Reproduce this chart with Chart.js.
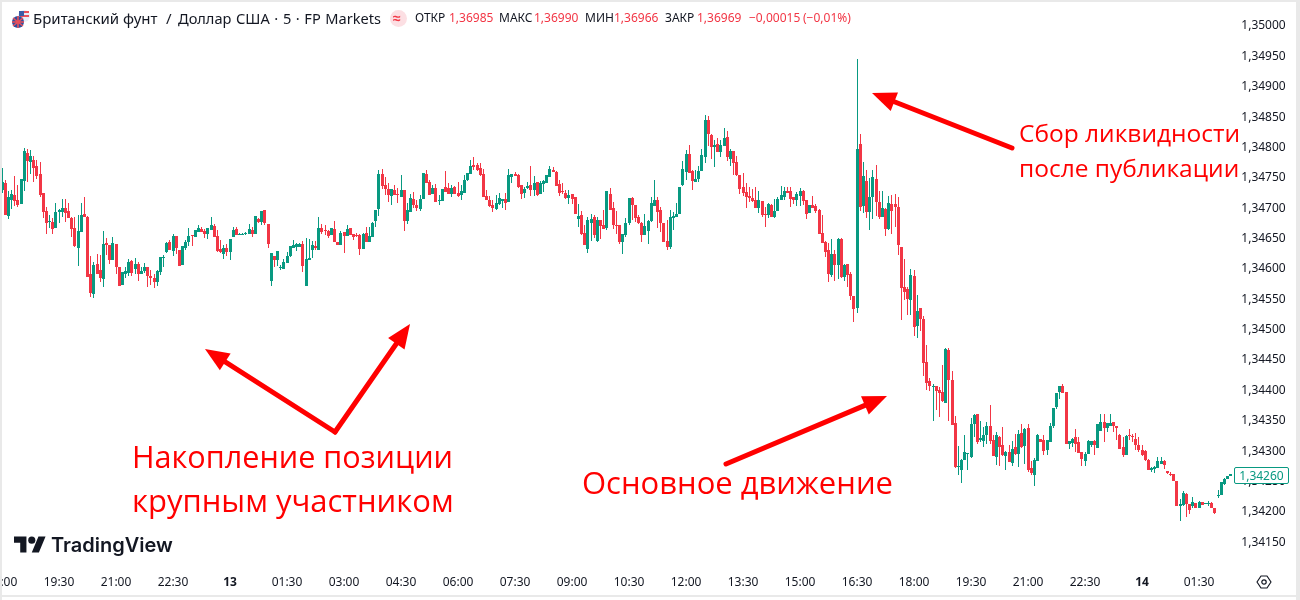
<!DOCTYPE html>
<html><head><meta charset="utf-8">
<script src="https://cdn.jsdelivr.net/npm/chart.js@4"></script>
<style>
html,body{margin:0;padding:0;background:#fff;width:1300px;height:600px;overflow:hidden;font-family:"Noto Sans",sans-serif}
#c{position:absolute;left:0;top:0}
.t{position:absolute;white-space:nowrap;line-height:1}
.h{font-size:12px;color:#131722;top:12px}
.v{color:#F23645}
.big{color:#f00;font-family:"Open Sans","Noto Sans",sans-serif}
.frame{position:absolute;background:#e9e9e9}
</style></head><body>
<canvas id="c" width="1300" height="600"></canvas>
<div class="frame" style="left:0;top:0;width:1300px;height:2px"></div>
<div class="frame" style="left:0;top:0;width:2px;height:600px"></div>
<div class="frame" style="left:0;top:595px;width:1300px;height:2px"></div>
<div class="frame" style="left:1296px;top:0;width:4px;height:600px"></div>
<svg style="position:absolute;left:11px;top:9px" width="20" height="20" viewBox="0 0 20 20">
<circle cx="13" cy="7" r="6" fill="#e8eef8"/><rect x="9" y="2" width="9" height="2" fill="#e8505b"/><rect x="9" y="6" width="9" height="2" fill="#e8505b"/><rect x="8" y="2" width="5" height="5" fill="#3b5ba5"/>
<circle cx="7" cy="13" r="6" fill="#2f4f9e"/><path d="M2 9l10 8M12 9L2 17M7 7v12M1 13h12" stroke="#e8505b" stroke-width="1.6"/>
</svg>
<div class="t" style="left:33px;top:11px;font-size:15px;color:#131722">Британский фунт</div>
<div class="t" style="left:166px;top:11px;font-size:15px;color:#131722">/</div>
<div class="t" style="left:178px;top:11px;font-size:14.6px;word-spacing:0.8px;color:#131722">Доллар США · 5 · FP Markets</div>
<div style="position:absolute;left:390px;top:10px;width:17px;height:17px;border-radius:50%;background:#fcdfe3"></div>
<div class="t" style="left:393px;top:11px;font-size:14px;color:#F23645;font-weight:700">≈</div>
<div class="t h" style="left:415px">ОТКР</div><div class="t h v" style="left:449px">1,36985</div>
<div class="t h" style="left:499px">МАКС</div><div class="t h v" style="left:534px">1,36990</div>
<div class="t h" style="left:585px">МИН</div><div class="t h v" style="left:614px">1,36966</div>
<div class="t h" style="left:665px">ЗАКР</div><div class="t h v" style="left:697px">1,36969</div>
<div class="t h v" style="left:749px">−0,00015</div><div class="t h v" style="left:803px">(−0,01%)</div>
<div class="t big" style="left:1019px;top:121px;font-size:24.5px">Сбор ликвидности</div>
<div class="t big" style="left:1019px;top:156px;font-size:24.5px">после публикации</div>
<div class="t big" style="left:132px;top:441px;font-size:30.6px">Накопление позиции</div>
<div class="t big" style="left:132px;top:485px;font-size:31px">крупным участником</div>
<div class="t big" style="left:582px;top:467px;font-size:31px">Основное движение</div>
<svg style="position:absolute;left:14px;top:533px" width="32" height="25" viewBox="0 0 36 28"><path d="M14 22H7V11H0V4h14v18zM28 22h-8l7.5-18h8L28 22z" fill="#131722"/><circle cx="20" cy="8" r="4" fill="#131722"/></svg>
<div class="t" style="left:51px;top:535px;font-size:20px;font-weight:600;font-family:Inter,sans-serif;color:#131722">TradingView</div>
<svg style="position:absolute;left:1256px;top:574px" width="16" height="16" viewBox="0 0 16 16"><path d="M5 2h6l4 6-4 6H5L1 8z" fill="none" stroke="#131722" stroke-width="1.2" stroke-linejoin="round"/><circle cx="8" cy="8" r="2.2" fill="none" stroke="#131722" stroke-width="1.2"/></svg>
<div class="t" style="left:1234px;top:467px;width:53px;height:15px;line-height:15px;border:1.5px solid #089981;border-radius:2px;background:#fff;color:#089981;font-size:12px;text-align:center">1,34260</div>
<script>
const directions = [
 'GRGGRRGGRG RRRRRGRGGG RRRRGGRRRG RRGRRGRRGG GRGRGGRRRG GGGRGRRGGG RGGRRG',
 'GRRRGRGGRG GGGRGRGRRG RGGGGGGGGR GGGRGRRRGR RGRGRRRRGR GGGGRRRGRR GRGGR',
 'RGGRRGRGGR RGRRGGGGRR RRRRRGGGRG GRRRGGRGRG GGGRRRRRGR RGRRGGRGRR GRRRR',
 'GGGRRRRGGG GRRRRGGGGG GRRGGGGRRG RGGRGRRRRR RRRGRRGRGG GGRRRGGRRG RRRRR',
 'RGRGRGRRRG RGRGGRRGRG RRRRRRGRGR RRRGRRRGR',
 'RRGGGGGGRG GGRRGRRGRG RGRGRRGGRR GGGGGRRGGR RRGG',
 'GRGGRGGRRR RGRRRRRRRG GGGRRRRRGG RRGRGRGGRR GGGGG'
].join('').replace(/ /g,'');
const highs = [
34764,34745,34727,34729,34751,34736,34746,34798,34796,34794,34784,34778,34774,34723,34700,34687,34682,34707,34697,34713,34713,34707,34684,34684,34687,34707,34717,34685,34620,34610,34623,34621,34661,34649,34638,34651,34639,34601,34593,34601,34615,34613,34616,34610,34601,34608,34601,34596,34590,34596,34618,34621,34643,34646,34656,34652,34629,34636,34646,34666,34654,34662,34671,34667,34664,34666,
34684,34672,34662,34646,34638,34639,34648,34667,34667,34657,34657,34659,34672,34667,34685,34682,34694,34695,34672,34625,34620,34628,34605,34615,34626,34636,34646,34641,34641,34644,34649,34648,34644,34644,34684,34672,34671,34662,34666,34677,34643,34661,34659,34671,34666,34656,34657,34656,34657,34667,34667,34676,34695,34761,34763,34750,34740,34730,34736,34731,34753,34728,34707,34722,34725,
34712,34720,34756,34761,34745,34737,34738,34720,34730,34760,34740,34737,34735,34741,34737,34753,34756,34778,34783,34773,34773,34763,34728,34718,34712,34720,34723,34713,34723,34763,34755,34758,34755,34737,34733,34741,34768,34751,34741,34743,34745,34753,34768,34766,34760,34745,34740,34728,34728,34722,34717,34705,34694,34671,34684,34689,34687,34684,34679,34695,34727,34732,34709,34694,34671,
34656,34682,34715,34717,34704,34687,34676,34689,34679,34717,34745,34717,34700,34674,34679,34695,34692,34707,34733,34776,34794,34802,34761,34761,34768,34796,34852,34850,34821,34811,34814,34811,34830,34825,34796,34792,34784,34753,34756,34740,34733,34730,34733,34727,34710,34700,34707,34705,34713,34717,34735,34733,34733,34733,34717,34725,34732,34728,34712,34704,34718,34705,34697,34687,34645,
34641,34648,34630,34649,34649,34607,34607,34593,34554,34944,34821,34775,34761,34748,34761,34770,34727,34727,34699,34719,34720,34722,34717,34635,34615,34569,34598,34597,34556,34534,34521,34473,34419,34409,34406,34404,34440,34468,34468,
34430,34356,34307,34285,34325,34295,34353,34360,34360,34348,34338,34346,34374,34325,34330,34323,34338,34299,34308,34315,34327,34333,34343,34337,34343,34282,34287,34327,34318,34325,34317,34345,34369,34394,34406,34409,34396,34315,34320,34335,34322,34297,34297,34317,
34315,34317,34343,34360,34360,34345,34360,34347,34340,34327,34322,34325,34335,34327,34329,34322,34309,34301,34286,34273,34274,34289,34289,34284,34266,34264,34260,34250,34220,34232,34230,34212,34223,34213,34217,34215,34213,34217,34215,34205,34235,34248,34255,34258,34260];
const bodyTops = [
34742,34740,34717,34722,34720,34712,34746,34792,34789,34784,34778,34768,34755,34723,34694,34677,34676,34692,34696,34699,34699,34694,34682,34666,34661,34687,34689,34684,34590,34605,34606,34596,34639,34641,34638,34641,34639,34601,34593,34595,34610,34611,34606,34606,34595,34601,34601,34587,34583,34595,34618,34618,34641,34643,34652,34652,34629,34636,34643,34652,34654,34662,34666,34664,34661,34666,
34671,34669,34652,34631,34633,34633,34648,34662,34664,34656,34656,34657,34664,34662,34685,34680,34694,34695,34672,34625,34620,34628,34601,34610,34620,34636,34638,34639,34639,34639,34615,34616,34638,34636,34666,34666,34662,34661,34666,34664,34643,34657,34659,34664,34666,34656,34654,34654,34656,34657,34652,34674,34695,34755,34755,34736,34730,34730,34728,34722,34728,34728,34695,34715,34713,
34704,34713,34756,34755,34741,34732,34732,34712,34730,34733,34732,34732,34733,34723,34727,34745,34756,34768,34769,34769,34765,34755,34718,34712,34704,34707,34715,34713,34713,34753,34755,34755,34753,34737,34730,34735,34737,34740,34741,34740,34743,34753,34763,34761,34758,34738,34727,34723,34720,34722,34717,34685,34687,34657,34679,34681,34684,34679,34679,34671,34727,34722,34699,34671,34671,
34656,34674,34715,34715,34704,34684,34674,34669,34677,34707,34712,34712,34695,34674,34644,34684,34685,34689,34733,34763,34788,34788,34760,34746,34760,34786,34844,34844,34819,34802,34804,34802,34814,34816,34792,34792,34774,34753,34733,34725,34718,34715,34712,34712,34710,34689,34705,34704,34694,34713,34720,34727,34727,34727,34717,34722,34727,34727,34712,34704,34704,34702,34695,34658,34643,
34630,34623,34623,34648,34648,34605,34607,34590,34554,34796,34804,34752,34743,34717,34750,34747,34709,34699,34697,34707,34705,34705,34700,34635,34569,34565,34589,34587,34529,34534,34516,34445,34414,34406,34406,34399,34396,34467,34465,
34416,34345,34274,34284,34297,34295,34343,34358,34360,34320,34325,34340,34340,34317,34325,34322,34308,34297,34297,34302,34305,34327,34328,34335,34336,34271,34284,34325,34318,34317,34317,34340,34369,34394,34406,34406,34396,34315,34318,34322,34313,34297,34294,34315,
34315,34315,34343,34347,34347,34345,34345,34347,34339,34325,34306,34324,34325,34324,34319,34309,34301,34299,34284,34271,34273,34283,34283,34283,34266,34261,34260,34250,34212,34230,34228,34212,34215,34213,34215,34215,34213,34213,34213,34205,34227,34248,34253,34258,34260];
const bodyBottoms = [
34729,34687,34685,34712,34711,34704,34705,34743,34776,34774,34764,34751,34720,34692,34674,34676,34664,34666,34692,34692,34690,34682,34664,34636,34633,34659,34684,34585,34559,34557,34590,34583,34582,34638,34613,34613,34601,34570,34572,34590,34592,34592,34598,34590,34590,34595,34587,34583,34577,34577,34593,34616,34626,34629,34628,34633,34603,34605,34633,34643,34652,34651,34659,34659,34656,34656,
34662,34651,34628,34626,34623,34626,34626,34651,34654,34654,34654,34656,34656,34656,34656,34676,34676,34674,34639,34578,34613,34613,34600,34598,34608,34620,34633,34634,34634,34603,34570,34613,34629,34633,34629,34659,34661,34652,34654,34643,34638,34638,34652,34652,34654,34651,34652,34631,34631,34643,34643,34651,34677,34697,34735,34730,34720,34718,34720,34720,34717,34677,34677,34692,34704,
34699,34697,34713,34740,34720,34722,34709,34710,34710,34725,34722,34722,34722,34718,34720,34723,34745,34755,34766,34761,34753,34717,34712,34702,34699,34697,34705,34710,34707,34709,34750,34751,34733,34722,34723,34732,34728,34728,34720,34722,34738,34740,34750,34758,34735,34723,34725,34715,34715,34713,34689,34681,34656,34638,34631,34674,34654,34644,34669,34664,34666,34695,34671,34669,34643,
34643,34654,34674,34704,34682,34674,34654,34654,34661,34677,34702,34692,34674,34643,34634,34634,34682,34684,34689,34737,34758,34756,34743,34741,34746,34760,34783,34821,34799,34799,34791,34791,34801,34783,34779,34773,34753,34730,34723,34717,34715,34710,34699,34699,34687,34687,34687,34684,34684,34694,34712,34717,34723,34713,34712,34712,34718,34710,34689,34690,34699,34694,34656,34641,34626,
34590,34589,34605,34605,34585,34585,34589,34554,34533,34534,34700,34702,34692,34692,34717,34709,34684,34684,34664,34664,34694,34700,34638,34567,34561,34549,34547,34503,34505,34516,34444,34411,34406,34404,34398,34394,34381,34378,34416,
34341,34272,34272,34267,34284,34294,34289,34343,34313,34317,34315,34325,34315,34290,34289,34305,34292,34290,34281,34279,34294,34294,34305,34307,34267,34262,34259,34282,34313,34299,34300,34313,34340,34371,34396,34394,34310,34310,34312,34310,34295,34285,34282,34294,
34309,34309,34304,34332,34337,34337,34340,34339,34337,34302,34292,34292,34324,34322,34309,34301,34292,34284,34268,34268,34269,34271,34278,34276,34263,34260,34250,34208,34208,34210,34212,34202,34208,34204,34205,34210,34212,34212,34205,34197,34225,34227,34245,34253,34258];
const lows = [
34723,34687,34680,34697,34702,34700,34705,34727,34741,34755,34741,34746,34717,34682,34656,34666,34656,34666,34674,34684,34676,34682,34651,34634,34603,34659,34684,34585,34552,34550,34590,34577,34569,34621,34606,34613,34590,34570,34572,34583,34587,34587,34590,34578,34590,34592,34569,34572,34567,34570,34588,34601,34625,34629,34620,34623,34603,34605,34629,34636,34636,34651,34659,34659,34649,34648,
34662,34651,34626,34625,34615,34620,34613,34651,34654,34654,34654,34654,34656,34651,34656,34674,34671,34671,34633,34570,34601,34603,34596,34598,34608,34618,34633,34628,34634,34593,34570,34613,34616,34629,34629,34656,34654,34649,34654,34643,34638,34638,34625,34652,34654,34646,34651,34621,34631,34643,34643,34651,34667,34685,34730,34720,34708,34704,34720,34707,34717,34661,34672,34692,34699,
34694,34694,34713,34740,34720,34722,34709,34704,34710,34725,34722,34717,34722,34717,34712,34723,34743,34755,34761,34760,34751,34717,34712,34700,34692,34695,34704,34699,34695,34709,34740,34751,34732,34713,34715,34730,34718,34718,34718,34722,34725,34740,34750,34758,34735,34718,34722,34713,34705,34705,34689,34667,34654,34638,34625,34644,34649,34643,34648,34664,34662,34695,34664,34656,34639,
34623,34651,34671,34679,34676,34672,34643,34654,34639,34676,34702,34666,34659,34643,34630,34631,34662,34684,34689,34735,34745,34756,34728,34741,34741,34760,34773,34801,34779,34766,34791,34783,34801,34776,34768,34753,34751,34722,34718,34699,34709,34709,34699,34690,34684,34667,34682,34684,34682,34694,34712,34712,34723,34700,34705,34702,34702,34704,34681,34690,34699,34690,34656,34641,34618,
34577,34585,34579,34582,34584,34579,34569,34547,34511,34526,34694,34691,34682,34663,34681,34686,34681,34684,34653,34663,34656,34668,34621,34514,34547,34523,34523,34488,34485,34496,34422,34399,34398,34348,34366,34355,34379,34378,34348,
34341,34271,34259,34246,34284,34267,34287,34322,34310,34313,34305,34310,34310,34290,34276,34274,34290,34267,34281,34274,34292,34272,34304,34277,34264,34259,34241,34282,34313,34292,34292,34313,34336,34368,34384,34394,34310,34302,34305,34297,34295,34274,34274,34294,
34306,34292,34304,34332,34314,34330,34340,34330,34317,34302,34289,34292,34317,34314,34301,34297,34291,34283,34268,34264,34263,34271,34278,34269,34260,34258,34250,34208,34184,34208,34190,34195,34204,34204,34205,34210,34212,34208,34205,34195,34222,34227,34243,34253,34258];
const priceTicks = [35000,34950,34900,34850,34800,34750,34700,34650,34600,34550,34500,34450,34400,34350,34300,34250,34200,34150];
const timeTickIndexes = [0,18,36,54,72,90,108,126,144,162,180,198,216,234,252,270,288,306,324,342,360,378];
const timeTickLabels = ['18:00','19:30','21:00','22:30','13','01:30','03:00','04:30','06:00','07:30','09:00','10:30','12:00','13:30','15:00','16:30','18:00','19:30','21:00','22:30','14','01:30'];
const arrows = [[1012,148,872,93],[335,432,205,349],[335,432,410,324],[726,464,887,396]];

const n = highs.length;
const UP='#089981', DOWN='#F23645';
const price = p => 1 + p/100000;
const colors = Array.from(directions).map(d => d==='G'?UP:DOWN);
const labels = Array.from({length:n},(_,i)=>String(i));
const tickTextByIndex = {}; timeTickIndexes.forEach((v,i)=>tickTextByIndex[v]=timeTickLabels[i]);
if ([bodyTops.length,bodyBottoms.length,lows.length,directions.length].some(l=>l!==n)) {
  throw new Error('LENGTHS '+[n,bodyTops.length,bodyBottoms.length,lows.length,directions.length].join(' '));
}

const pixelSnap = {id:'pixelSnap', afterDatasetsUpdate(chart){
  chart.getSortedVisibleDatasetMetas().forEach(meta=>{
    meta.data.forEach(el=>{
      el.x = Math.round(el.x-0.5)+0.5;
      el.y = Math.round(el.y); el.base = Math.round(el.base);
      if (el.base===el.y) el.base = el.y+1;
      el.height = el.base-el.y;
    });
  });
}};
const arrowPlugin = {id:'arrowPlugin', afterDraw(chart){
  const c = chart.ctx; c.save(); c.fillStyle='#ff0000'; c.strokeStyle='#ff0000'; c.lineWidth=5;
  for (const [x0,y0,x1,y1] of arrows){
    const a=Math.atan2(y1-y0,x1-x0), L=24, W=10, bx=x1-L*Math.cos(a), by=y1-L*Math.sin(a);
    c.beginPath(); c.moveTo(x0,y0); c.lineTo(bx,by); c.lineCap='round'; c.stroke();
    c.beginPath(); c.moveTo(x1,y1);
    c.lineTo(bx-W*Math.sin(a),by+W*Math.cos(a)); c.lineTo(bx+W*Math.sin(a),by-W*Math.cos(a)); c.closePath(); c.fill();
  }
  c.restore();
}};

new Chart(document.getElementById('c'),{
  type:'bar',
  data:{labels,datasets:[
    {label:'Тело',data:bodyTops.map((t,i)=>[price(bodyBottoms[i]),price(t)]),backgroundColor:colors,barThickness:3,grouped:false,order:1,inflateAmount:0,borderWidth:0},
    {label:'Тень',data:highs.map((h,i)=>[price(lows[i]),price(h)]),backgroundColor:colors,barThickness:1,grouped:false,order:2,inflateAmount:0,borderWidth:0}
  ]},
  plugins:[pixelSnap,arrowPlugin],
  options:{
    responsive:false,animation:false,
    layout:{padding:{left:0.417,right:0,top:0,bottom:0},autoPadding:false},
    plugins:{legend:{display:false},tooltip:{enabled:false}},
    events:[],
    scales:{
      x:{type:'category',offset:true,grid:{display:false,drawTicks:false},border:{display:false},
        afterFit(s){s.height=35;s.paddingLeft=0;s.paddingRight=0;},
        afterBuildTicks(s){s.ticks=timeTickIndexes.map(v=>({value:v}));},
        ticks:{autoSkip:false,maxRotation:0,minRotation:0,padding:10,color:'#131722',
          font:ctx=>({family:'"Noto Sans",sans-serif',size:12,weight:/^\d\d$/.test(tickTextByIndex[ctx.tick.value])?'700':'400'}),
          callback(v){return tickTextByIndex[v];}}},
      y:{type:'linear',position:'right',min:price(34110.96),max:price(35041.16),
        grid:{display:false,drawTicks:false},border:{display:false},
        afterFit(s){s.width=67.7;s.paddingTop=0;s.paddingBottom=0;},
        afterBuildTicks(s){s.ticks=priceTicks.map(p=>({value:price(p)}));},
        ticks:{padding:9,labelOffset:1,color:'#131722',font:{family:'"Noto Sans",sans-serif',size:12},
          callback(v){return v.toFixed(5).replace('.',',');}}}
    }
  }
});
</script>
</body></html>
